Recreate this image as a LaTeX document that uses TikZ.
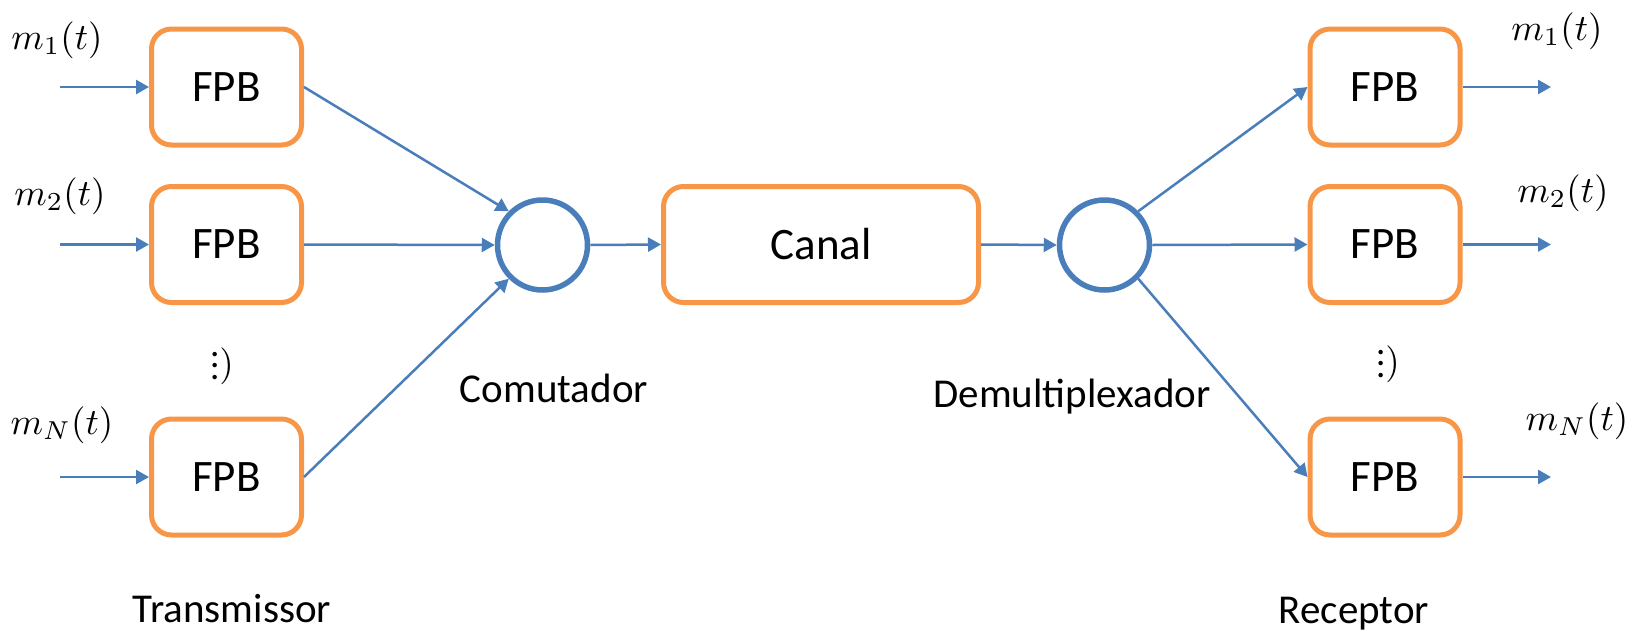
\documentclass[tikz,border=0pt]{standalone}
\usepackage{fontspec}
\setmainfont{Carlito}
\usetikzlibrary{arrows.meta}
\definecolor{borange}{HTML}{F79646}
\definecolor{lblue}{HTML}{4A7EBB}
\newcommand{\mydots}{\vcenter{\baselineskip3.2pt\lineskiplimit0pt\hbox{.}\hbox{.}\hbox{.}}}
\begin{document}
\begin{tikzpicture}[x=1pt,y=-1pt,
  fpb/.style={draw=borange,line width=5pt,rounded corners=20pt,minimum width=150pt,minimum height=116pt,font=\fontsize{45}{50}\selectfont,inner sep=0pt},
  sw/.style={circle,draw=lblue,line width=5.5pt,minimum size=90pt,inner sep=0pt},
  conn/.style={draw=lblue,line width=2.5pt,-{Triangle[length=13pt,width=14pt]}},
  lbl/.style={font=\fontsize{41}{46}\selectfont,anchor=base,inner sep=0pt},
  sig/.style={scale=3.7,inner sep=0pt}]
\useasboundingbox (0,0) rectangle (1646,632);
% left boxes
\node[fpb] (l1) at (226.5,87) {FPB};
\node[fpb] (l2) at (226.5,244.5) {FPB};
\node[fpb] (l3) at (226.5,477) {FPB};
% right boxes
\node[fpb] (r1) at (1385,87) {FPB};
\node[fpb] (r2) at (1385,244.5) {FPB};
\node[fpb] (r3) at (1385,477) {FPB};
% canal
\node[fpb,minimum width=315pt] (canal) at (821,244.5) {Canal};
% switches
\node[sw] (c1) at (542.5,245) {};
\node[sw] (c2) at (1104.5,245) {};
% inputs and outputs
\coordinate (i1) at (60,87);
\coordinate (i2) at (60,244.5);
\coordinate (i3) at (60,477);
\coordinate (o1) at (1551,87);
\coordinate (o2) at (1551,244.5);
\coordinate (o3) at (1551,477);
\draw[conn] (i1) -- (l1.west);
\draw[conn] (i2) -- (l2.west);
\draw[conn] (i3) -- (l3.west);
\draw[conn] (r1.east) -- (o1);
\draw[conn] (r2.east) -- (o2);
\draw[conn] (r3.east) -- (o3);
% to commutator
\draw[conn] (l1.east) -- (c1.north west);
\draw[conn] (l2.east) -- (c1.west);
\draw[conn] (l3.east) -- (c1.south west);
\draw[conn] (c1.east) -- (canal.west);
\draw[conn] (canal.east) -- (c2.west);
\draw[conn] (c2.north east) -- (r1.west);
\draw[conn] (c2.east) -- (r2.west);
\draw[conn] (c2.south east) -- (r3.west);
% signal labels
\node[sig] (m1) at (57,40) {$m_1(t)$};
\node[sig] (m2) at (60,196) {$m_2(t)$};
\node[sig] (m3) at (62,425) {$m_N(t)$};
\node[sig] (n1) at (1557,31) {$m_1(t)$};
\node[sig] (n2) at (1563,193) {$m_2(t)$};
\node[sig] (n3) at (1577,421) {$m_N(t)$};
\node[sig] (d1) at (222,366) {$\mydots)$};
\node[sig] (d2) at (1388,364) {$\mydots)$};
% captions
\node[lbl] (t1) at (554,402) {Comutador};
\node[lbl] (t2) at (1072,407) {Demultiplexador};
\node[lbl] (t3) at (232,622) {Transmissor};
\node[lbl] (t4) at (1354,623) {Receptor};
\end{tikzpicture}
\end{document}
